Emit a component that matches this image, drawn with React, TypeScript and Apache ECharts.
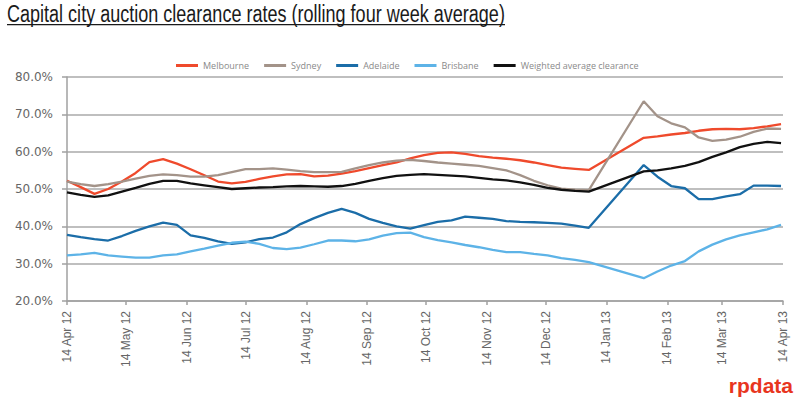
import React, { useEffect, useRef } from 'react';
import * as echarts from 'echarts';

// Weekly observations starting Saturday 14 Apr 2012 (null = no published figure)
const startDate = [2012, 3, 14];
const melbourne = [52.2, 50.5, 48.7, 50.0, 52.0, 54.3, 57.2, 58.0, 56.8, 55.3, 53.7, 52.0, 51.5, 51.9, 52.7, 53.4, 53.9, 54.0, 53.4, 53.6, 54.1, 54.8, 55.6, 56.4, 57.1, 58.2, 59.1, 59.7, 59.8, 59.4, 58.8, 58.4, 58.1, 57.7, 57.1, 56.4, 55.7, 55.4, 55.1, null, null, null, 63.7, 64.1, 64.6, 65.0, 65.6, 66.0, 66.1, 66.0, 66.3, 66.8, 67.4];
const sydney = [52.0, 51.3, 50.8, 51.3, 52.0, 52.8, 53.5, 53.9, 53.7, 53.3, 53.3, 53.7, 54.5, 55.3, 55.3, 55.5, 55.2, 54.8, 54.5, 54.5, 54.6, 55.5, 56.4, 57.1, 57.6, 57.8, 57.5, 57.1, 56.8, 56.5, 56.2, 55.6, 55.0, 53.7, 52.2, 51.0, 50.1, 49.8, 49.7, null, null, null, 73.5, 69.5, 67.6, 66.5, 63.8, 62.9, 63.2, 64.0, 65.3, 66.2, 66.1];
const adelaide = [37.7, 37.1, 36.6, 36.2, 37.4, 38.8, 40.0, 41.0, 40.4, 37.6, 36.9, 36.0, 35.3, 35.7, 36.6, 37.0, 38.4, 40.6, 42.2, 43.6, 44.7, 43.6, 42.0, 40.9, 40.0, 39.4, 40.3, 41.2, 41.6, 42.6, 42.3, 42.0, 41.4, 41.2, 41.1, 40.9, 40.7, 40.2, 39.6, null, null, null, 56.4, 53.3, 50.8, 50.2, 47.3, 47.3, 48.0, 48.6, 50.9, 50.9, 50.8];
const brisbane = [32.2, 32.5, 32.9, 32.2, 31.9, 31.6, 31.6, 32.2, 32.5, 33.3, 34.0, 34.8, 35.6, 35.9, 35.3, 34.2, 33.9, 34.3, 35.2, 36.2, 36.2, 36.0, 36.5, 37.5, 38.2, 38.3, 37.1, 36.3, 35.7, 35.0, 34.4, 33.7, 33.1, 33.1, 32.6, 32.2, 31.5, 31.0, 30.4, null, null, null, 26.1, 27.9, 29.5, 30.7, 33.3, 35.1, 36.5, 37.6, 38.4, 39.2, 40.4];
const weighted = [49.1, 48.4, 47.9, 48.3, 49.3, 50.3, 51.4, 52.2, 52.2, 51.5, 51.0, 50.5, 50.0, 50.2, 50.4, 50.5, 50.7, 50.8, 50.7, 50.6, 50.8, 51.4, 52.2, 52.9, 53.5, 53.8, 54.0, 53.8, 53.6, 53.4, 53.0, 52.6, 52.3, 51.8, 51.1, 50.3, 49.8, 49.5, 49.3, null, null, null, 54.7, 55.0, 55.5, 56.2, 57.2, 58.6, 59.8, 61.2, 62.1, 62.6, 62.3];

const seriesNames = ['Melbourne', 'Sydney', 'Adelaide', 'Brisbane', 'Weighted average clearance'];
const seriesValues = [melbourne, sydney, adelaide, brisbane, weighted];
const seriesColors = ['#EF4A2C', '#A39389', '#1B6DA8', '#5DB3E7', '#111111'];

// X-axis ticks: the 14th of each month
const tickMonths = [[2012, 3], [2012, 4], [2012, 5], [2012, 6], [2012, 7], [2012, 8], [2012, 9], [2012, 10], [2012, 11], [2013, 0], [2013, 1], [2013, 2], [2013, 3]];
const tickLabels = ['14 Apr 12', '14 May 12', '14 Jun 12', '14 Jul 12', '14 Aug 12', '14 Sep 12', '14 Oct 12', '14 Nov 12', '14 Dec 12', '14 Jan 13', '14 Feb 13', '14 Mar 13', '14 Apr 13'];
const yTicks = { min: 20, max: 80, interval: 10 };

const titleText = 'Capital city auction clearance rates (rolling four week average)';

const DAY = 86400000;

export default function App() {
  const ref = useRef<HTMLDivElement>(null);
  useEffect(() => {
    if (!ref.current) return;
    const chart = echarts.init(ref.current, undefined, { renderer: 'svg' });
    const origin = new Date(startDate[0], startDate[1], startDate[2]).getTime();
    const toDays = (t: number) => Math.round((t - origin) / DAY);
    const weekDay = (i: number) => toDays(new Date(startDate[0], startDate[1], startDate[2] + 7 * i).getTime());
    const tickDays = tickMonths.map(([y, m]) => toDays(new Date(y, m, 14).getTime()));
    const labelFor = (v: number) => {
      const idx = tickDays.indexOf(Math.round(v));
      return idx >= 0 ? tickLabels[idx] : '';
    };
    const series = seriesNames.map((name, k) => ({
      name,
      type: 'line',
      data: seriesValues[k]
        .map((v, i) => (v === null ? null : [weekDay(i), v]))
        .filter((d) => d !== null),
      showSymbol: false,
      symbol: 'none',
      lineStyle: { color: seriesColors[k], width: 2.3 },
      itemStyle: { color: seriesColors[k] },
      z: k === 4 ? 5 : 3,
    }));
    chart.setOption({
      animation: false,
      backgroundColor: '#ffffff',
      graphic: [
        {
          type: 'text',
          x: 7,
          y: 2,
          scaleX: 0.784,
          style: {
            text: titleText,
            fill: '#1a1a1a',
            font: '23px "Liberation Sans", Arial, sans-serif',
            verticalAlign: 'top',
          },
        },
        { type: 'rect', shape: { x: 7, y: 24, width: 498, height: 1.3 }, style: { fill: '#1a1a1a' } },
        {
          type: 'text',
          right: 7,
          top: 375,
          style: {
            text: 'rpdata',
            fill: '#E8351E',
            font: 'bold 21px "Liberation Sans", Arial, sans-serif',
          },
        },
      ],
      legend: {
        data: seriesNames,
        left: 171,
        top: 56,
        icon: 'rect',
        itemWidth: 22,
        itemHeight: 3,
        itemGap: 15,
        textStyle: { color: '#8a8a8a', fontSize: 9, fontFamily: '"Open Sans", "Liberation Sans", sans-serif' },
      },
      grid: { left: 67, right: 17, top: 77, bottom: 98, containLabel: false },
      xAxis: {
        type: 'value',
        min: tickDays[0],
        max: tickDays[tickDays.length - 1],
        axisLine: { show: true, onZero: false, lineStyle: { color: '#A0A0A0', width: 1.5 } },
        axisTick: { show: true, length: 4, customValues: tickDays, lineStyle: { color: '#A0A0A0', width: 1.5 } },
        axisLabel: {
          customValues: tickDays,
          rotate: 90,
          margin: 10,
          formatter: (v: number) => labelFor(v),
          color: '#666666',
          fontSize: 12,
          fontFamily: '"Liberation Sans", Arial, sans-serif',
          hideOverlap: false,
          showMinLabel: true,
          showMaxLabel: true,
        },
        splitLine: { show: false },
      },
      yAxis: {
        type: 'value',
        min: yTicks.min,
        max: yTicks.max,
        interval: yTicks.interval,
        axisLine: { show: true, lineStyle: { color: '#A0A0A0', width: 1.5 } },
        axisTick: { show: true, length: 5, lineStyle: { color: '#A0A0A0', width: 1.5 } },
        axisLabel: {
          formatter: (v: number) => v.toFixed(1) + '%',
          margin: 14,
          color: '#666666',
          fontSize: 12,
          fontFamily: '"DejaVu Sans", Verdana, sans-serif',
        },
        splitLine: { show: true, lineStyle: { color: '#AAAAAA', width: 1.5 } },
      },
      series,
    });
    return () => chart.dispose();
  }, []);
  return (
    <div style={{ position: 'absolute', left: 0, top: 0, width: 800, height: 399, background: '#fff' }}>
      <div ref={ref} style={{ width: 800, height: 399 }} />
    </div>
  );
}
